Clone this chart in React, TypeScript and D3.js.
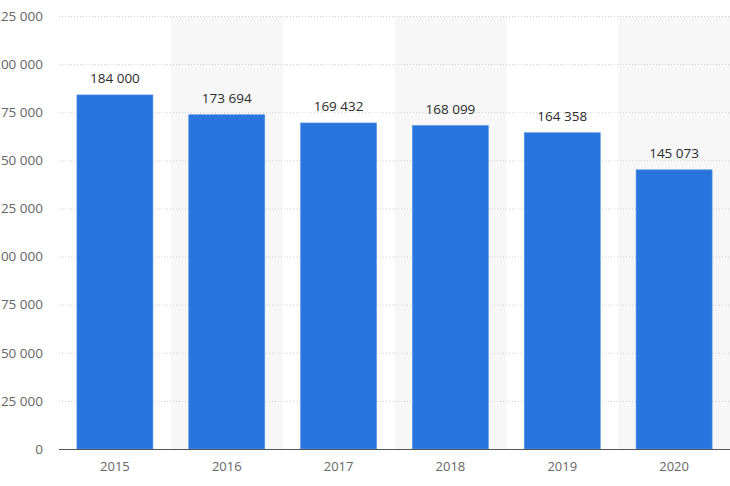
import React, { useEffect, useRef } from 'react';
import * as d3 from 'd3';

const years = ['2015', '2016', '2017', '2018', '2019', '2020'];
const values = [184000, 173694, 169432, 168099, 164358, 145073];
const yTicks = [0, 25000, 50000, 75000, 100000, 125000, 150000, 175000, 200000, 225000];

const fmt = (v: number) => d3.format(',')(v).replace(/,/g, ' ');

export default function App() {
  const svgRef = useRef<SVGSVGElement>(null);
  const width = 730;
  const height = 486;

  useEffect(() => {
    if (!svgRef.current) return;
    const svg = d3.select(svgRef.current);
    svg.selectAll('*').remove();

    const margin = { top: 16, right: 0, bottom: 37, left: 59 };
    const innerWidth = width - margin.left - margin.right;
    const innerHeight = height - margin.top - margin.bottom;

    const g = svg.append('g').attr('transform', `translate(${margin.left},${margin.top})`);

    // background stripes
    const band = d3.scaleBand().domain(years).range([0, innerWidth]).padding(0);
    const x = d3.scaleBand().domain(years).range([0, innerWidth]).paddingInner(0.32).paddingOuter(0.16);
    const y = d3.scaleLinear().domain([0, 225000]).range([innerHeight, 0]);

    g.selectAll('rect.stripe')
      .data(years.filter((_, i) => i % 2 === 1))
      .join('rect')
      .attr('class', 'stripe')
      .attr('x', d => band(d)!)
      .attr('y', 0)
      .attr('width', band.bandwidth())
      .attr('height', innerHeight)
      .attr('fill', '#f7f7f7');

    // gridlines
    g.selectAll('line.grid')
      .data(yTicks.filter(t => t > 0))
      .join('line')
      .attr('class', 'grid')
      .attr('x1', 0)
      .attr('x2', innerWidth)
      .attr('y1', d => y(d) + 0.5)
      .attr('y2', d => y(d) + 0.5)
      .attr('stroke', '#cfcfcf')
      .attr('stroke-width', 1)
      .attr('stroke-dasharray', '1,2');

    // y tick labels (cut off by the left edge, as in the reference)
    g.selectAll('text.ytick')
      .data(yTicks)
      .join('text')
      .attr('class', 'ytick')
      .attr('x', -16)
      .attr('y', d => y(d))
      .attr('dy', '0.35em')
      .attr('text-anchor', 'end')
      .attr('fill', '#666')
      .style('font-size', '13.5px')
      .text(d => fmt(d));

    // bars
    g.selectAll('rect.bar')
      .data(values)
      .join('rect')
      .attr('class', 'bar')
      .attr('x', (_, i) => x(years[i])!)
      .attr('y', d => y(d))
      .attr('width', x.bandwidth())
      .attr('height', d => innerHeight - y(d))
      .attr('fill', '#2876dd')
      .attr('stroke', '#5b97e6')
      .attr('stroke-width', 0.6);

    // value labels
    g.selectAll('text.value')
      .data(values)
      .join('text')
      .attr('class', 'value')
      .attr('x', (_, i) => x(years[i])! + x.bandwidth() / 2)
      .attr('y', d => y(d) - 12)
      .attr('text-anchor', 'middle')
      .attr('fill', '#2b2b2b')
      .style('font-size', '13.5px')
      .text(d => fmt(d));

    // x axis
    g.append('line')
      .attr('x1', 0)
      .attr('x2', innerWidth)
      .attr('y1', innerHeight + 0.5)
      .attr('y2', innerHeight + 0.5)
      .attr('stroke', '#555')
      .attr('stroke-width', 1.2);

    g.selectAll('text.xtick')
      .data(years)
      .join('text')
      .attr('class', 'xtick')
      .attr('x', d => band(d)! + band.bandwidth() / 2)
      .attr('y', innerHeight + 22)
      .attr('text-anchor', 'middle')
      .attr('fill', '#666')
      .style('font-size', '13px')
      .text(d => d);
  }, []);

  return (
    <div style={{ position: 'absolute', left: 0, top: 0 }}>
      <svg
        ref={svgRef}
        width={width}
        height={height}
        style={{ display: 'block', background: '#fff', fontFamily: '"Open Sans", "Noto Sans", sans-serif' }}
      ></svg>
    </div>
  );
}
